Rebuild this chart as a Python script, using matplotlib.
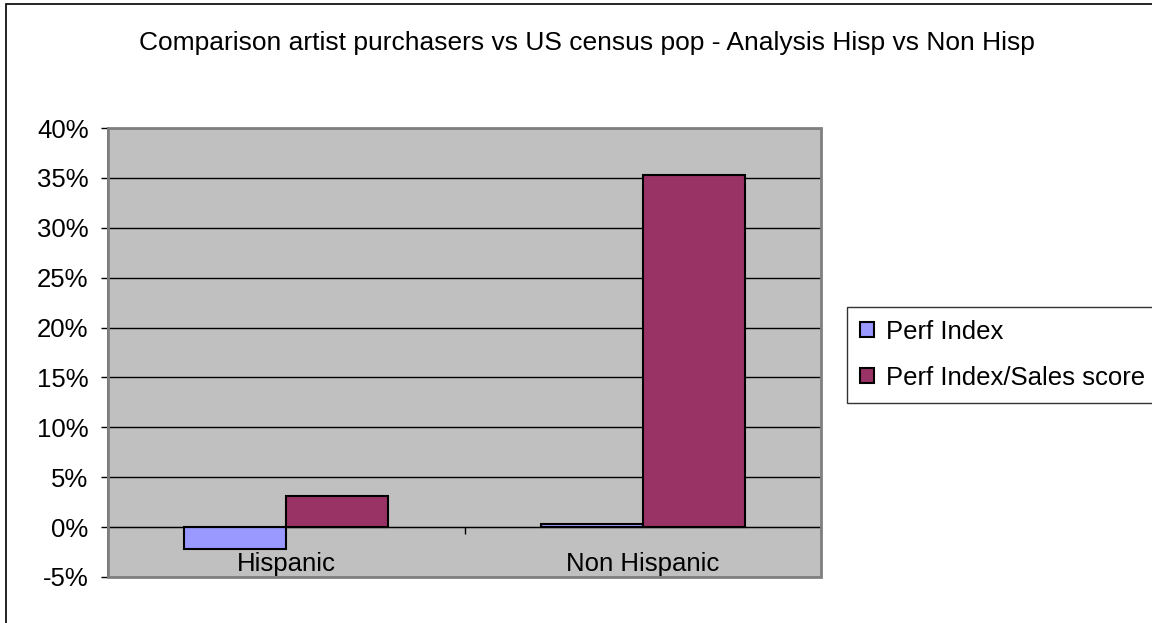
"""
Hisp vs Non Hisp 对比柱状图（仿 Excel 风格）。
"""
import numpy as np
import matplotlib
matplotlib.use("Agg")
import matplotlib.pyplot as plt
from matplotlib.patches import Rectangle
from matplotlib.ticker import FuncFormatter

plt.rcParams["font.family"] = ["Liberation Sans", "DejaVu Sans"]

# 数据（百分比）
categories = ["Hispanic", "Non Hispanic"]
series_names = ["Perf Index", "Perf Index/Sales score"]
perf_index = [-2.2, 0.3]
perf_sales = [3.1, 35.3]
series_colors = ["#9999FF", "#993366"]
y_ticks = [-5, 0, 5, 10, 15, 20, 25, 30, 35, 40]
title = "Comparison artist purchasers vs US census pop - Analysis Hisp vs Non Hisp"

W, H = 1152, 623
FS = 18.5
fig = plt.figure(figsize=(W / 100, H / 100), dpi=100)
fig.patch.set_facecolor("white")

# 图表外框（左、上可见）
fig.patches.append(Rectangle((6 / W, -0.05), 1.1, 1 - 4 / H + 0.05, transform=fig.transFigure,
                             fill=False, edgecolor="black", linewidth=1.2, clip_on=False))

ax = fig.add_axes([108 / W, 46 / H, (821 - 108) / W, (577 - 128) / H])
ax.set_facecolor("#C0C0C0")

x = np.arange(len(categories))
bw = 1 / 3.5  # Excel gap width 150%
for i, (vals, name, col) in enumerate(zip([perf_index, perf_sales], series_names, series_colors)):
    ax.bar(x + (i - 0.5) * bw, vals, width=bw, color=col, edgecolor="black",
           linewidth=1.5, label=name, zorder=3)

ax.set_xlim(-0.5, len(categories) - 0.5)
ax.set_ylim(y_ticks[0], y_ticks[-1])
ax.set_yticks(y_ticks)
ax.yaxis.set_major_formatter(FuncFormatter(lambda v, _: f"{v:.0f}%"))
ax.yaxis.grid(True, color="black", linewidth=1.0, zorder=1)
ax.set_axisbelow(True)
ax.tick_params(axis="y", direction="out", length=5, width=1, pad=9, labelsize=FS, color="black")

# 类别轴在 0 处
ax.spines["bottom"].set_position(("data", 0))
ax.spines["bottom"].set_color("black")
ax.spines["bottom"].set_zorder(4)
ax.set_xticks(np.arange(len(categories) + 1) - 0.5)
ax.set_xticklabels([])
ax.tick_params(axis="x", which="major", direction="out", length=5, width=1, color="black")
ax.set_xticks(x, minor=True)
ax.set_xticklabels(categories, minor=True)
ax.tick_params(axis="x", which="minor", length=0, pad=18, labelsize=FS)

ax.spines["left"].set_color("#303030")
ax.spines["left"].set_linewidth(1.2)
for s in ["top", "right"]:
    ax.spines[s].set_visible(False)
ax.add_patch(Rectangle((0, 0), 1, 1, transform=ax.transAxes, fill=False,
                       edgecolor="#808080", linewidth=2, zorder=5, clip_on=False))

fig.text(587 / W, 1 - 43 / H, title, ha="center", va="center", fontsize=19)

leg = fig.legend(loc="upper left", bbox_to_anchor=(847 / W, 1 - 307 / H), fontsize=FS,
                 frameon=True, fancybox=False, edgecolor="black", handlelength=0.55,
                 handleheight=0.55, handletextpad=0.47, borderpad=0.5, labelspacing=0.85,
                 borderaxespad=0)
leg.get_frame().set_linewidth(1.0)

fig.savefig("out.png", dpi=100)
